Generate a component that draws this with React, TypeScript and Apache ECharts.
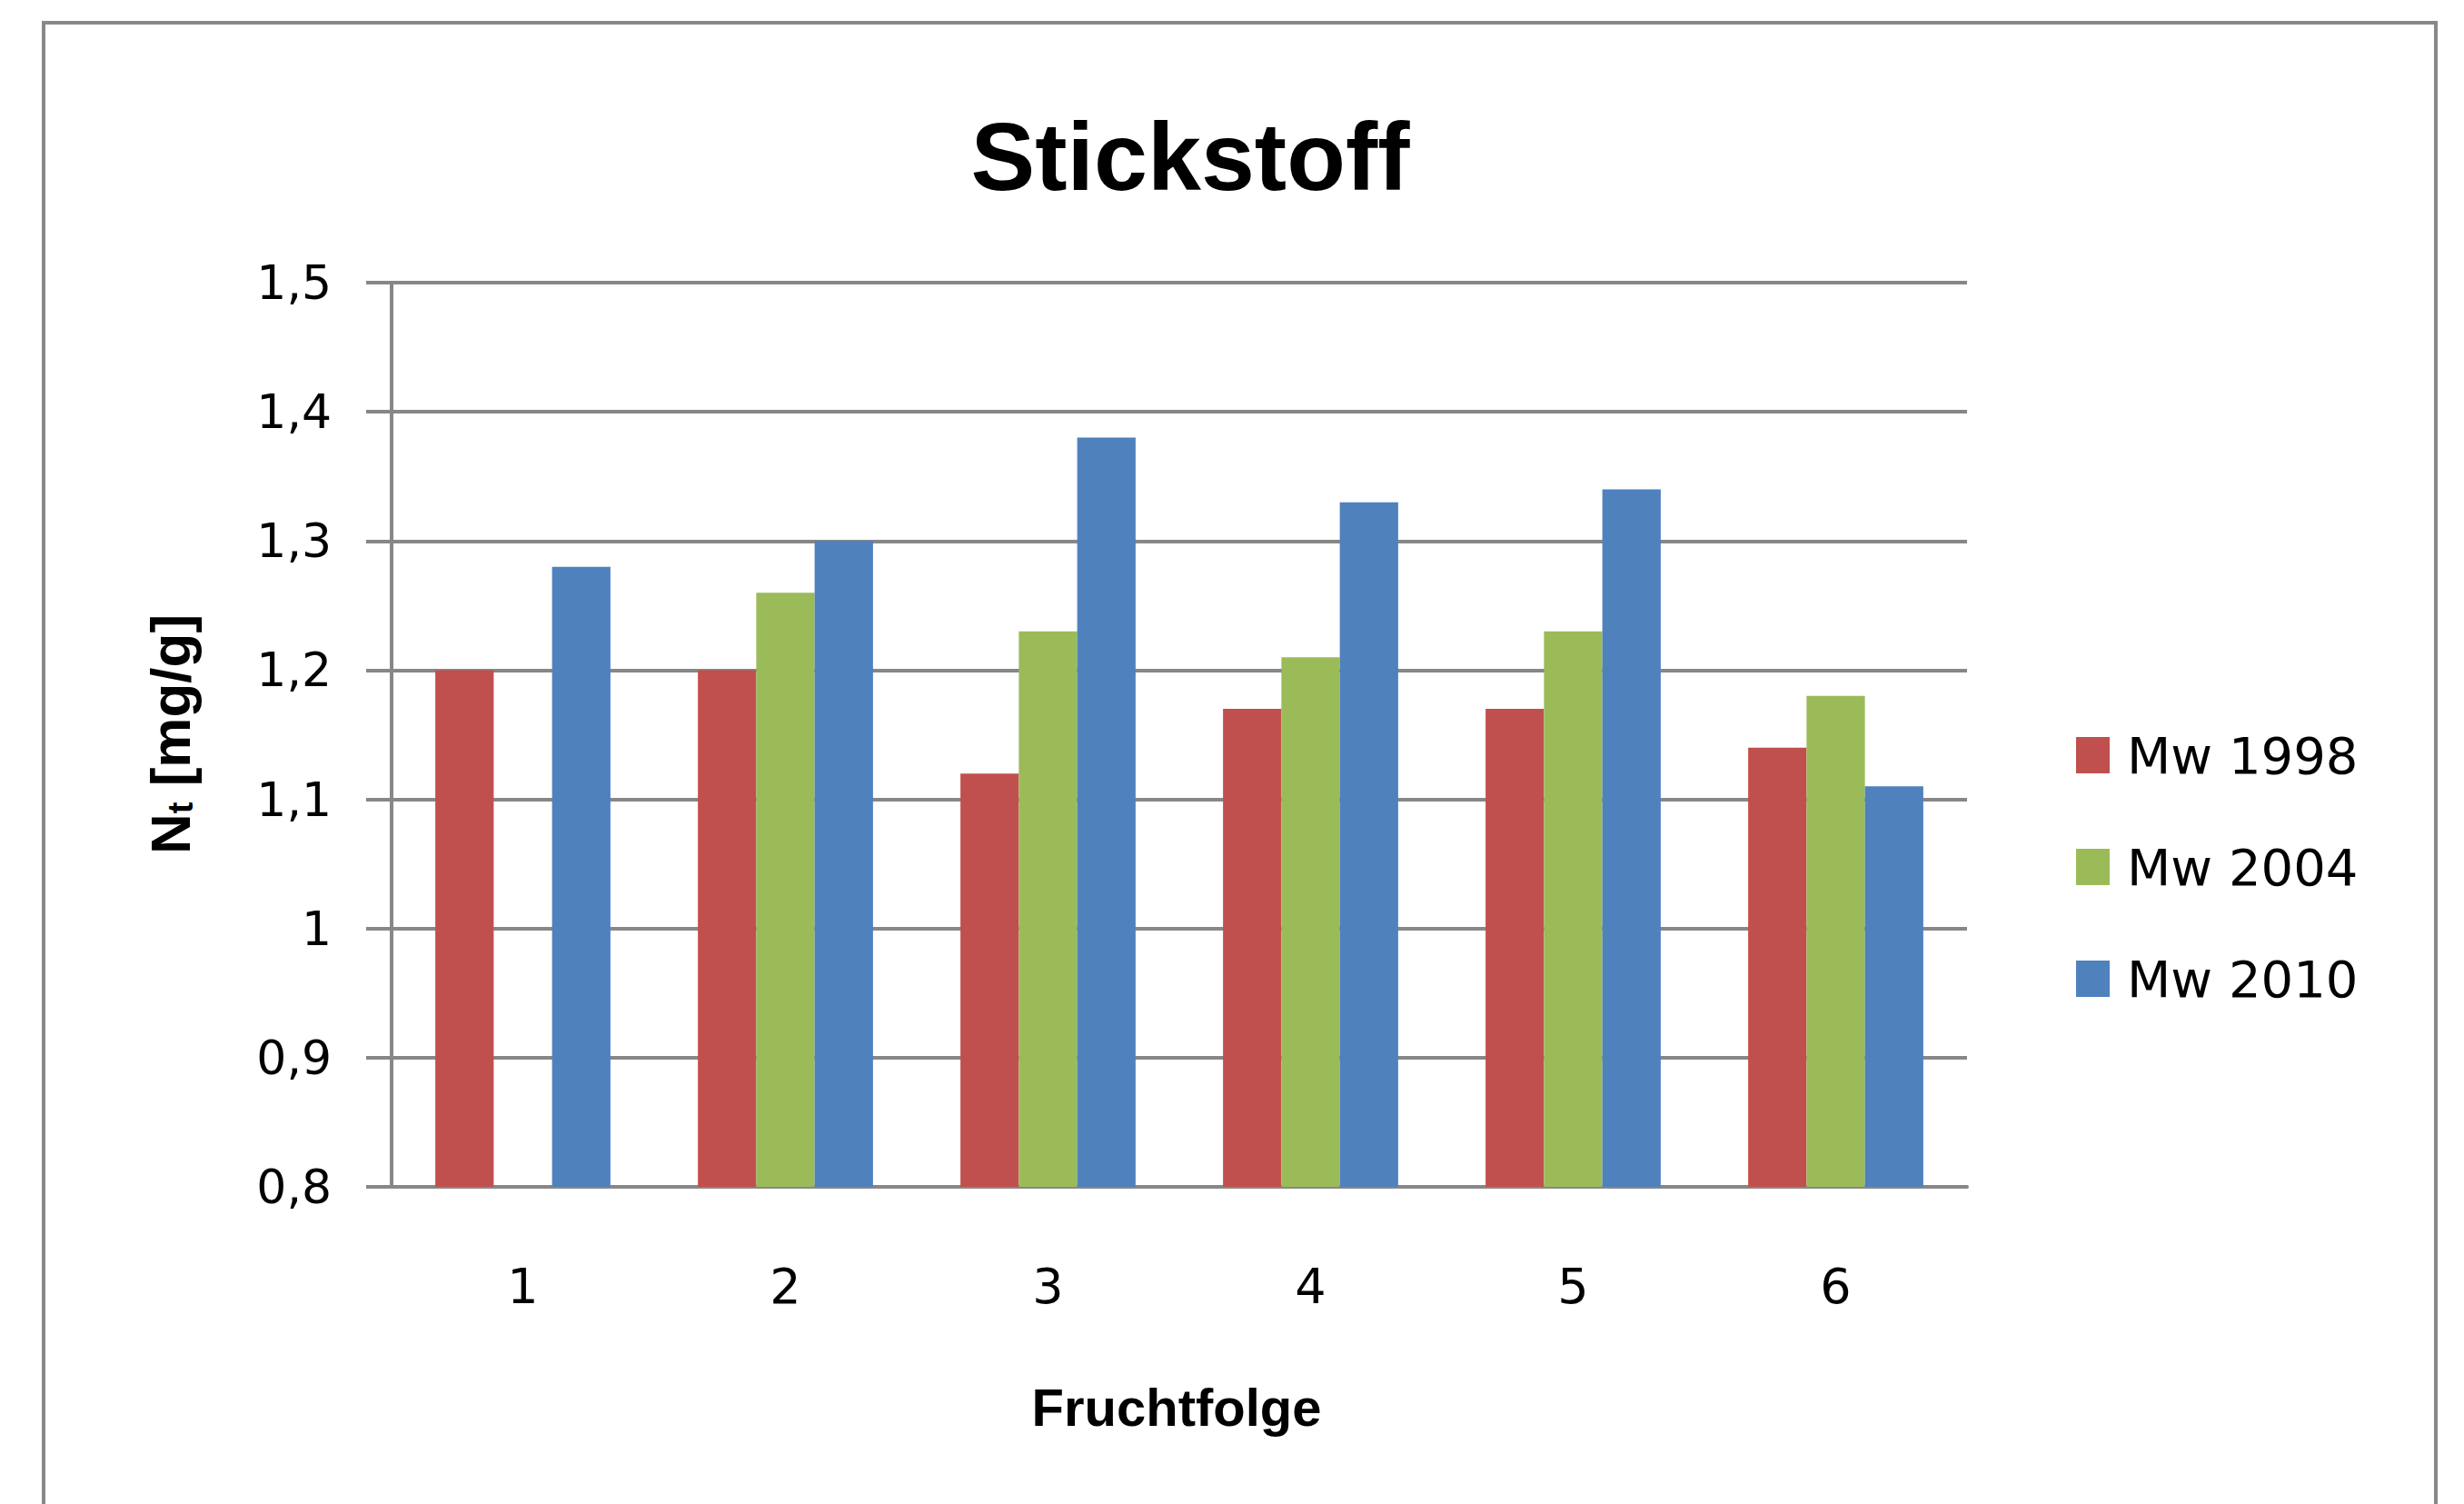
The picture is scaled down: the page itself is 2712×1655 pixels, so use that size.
import React, { useEffect, useRef } from "react";
import * as echarts from "echarts";

const categories = ["1", "2", "3", "4", "5", "6"];
const seriesNames = ["Mw 1998", "Mw 2004", "Mw 2010"];
const mw1998 = [1.2, 1.2, 1.12, 1.17, 1.17, 1.14];
const mw2004 = [null, 1.26, 1.23, 1.21, 1.23, 1.18];
const mw2010 = [1.28, 1.3, 1.38, 1.33, 1.34, 1.11];
const yTickLabels = ["0,8", "0,9", "1", "1,1", "1,2", "1,3", "1,4", "1,5"];
const colors = ["#C0504D", "#9BBB59", "#4F81BD"];

const GRID = "#878787";

export default function App() {
  const ref = useRef<HTMLDivElement>(null);
  useEffect(() => {
    if (!ref.current) return;
    const chart = echarts.init(ref.current, null, { renderer: "svg" });
    const values = [mw1998, mw2004, mw2010];
    chart.setOption({
      animation: false,
      backgroundColor: "#ffffff",
      grid: { left: 431, right: 547, top: 311, bottom: 349, containLabel: false },
      legend: {
        orient: "vertical",
        left: 2280,
        top: 798,
        itemWidth: 37,
        itemHeight: 40,
        itemGap: 67,
        icon: "rect",
        data: seriesNames,
        textStyle: {
          fontFamily: "DejaVu Sans",
          fontSize: 56,
          color: "#000",
          lineHeight: 40,
          padding: [0, 0, 0, 14],
        },
      },
      xAxis: {
        type: "category",
        data: categories,
        axisLine: { show: true, lineStyle: { color: GRID, width: 4 } },
        axisTick: { show: false },
        axisLabel: {
          fontFamily: "DejaVu Sans",
          fontSize: 54,
          color: "#000",
          margin: 82,
          lineHeight: 54,
        },
      },
      yAxis: {
        type: "value",
        min: 0.8,
        max: 1.5,
        interval: 0.1,
        axisLine: { show: true, lineStyle: { color: GRID, width: 4 } },
        axisTick: { show: true, length: 28, lineStyle: { color: GRID, width: 4 } },
        splitLine: { show: true, lineStyle: { color: GRID, width: 4 } },
        axisLabel: {
          fontFamily: "DejaVu Sans",
          fontSize: 52,
          color: "#000",
          margin: 66,
          formatter: (_v: number, i: number) => yTickLabels[i],
        },
      },
      series: values.map((d, i) => ({
        name: seriesNames[i],
        type: "bar",
        data: d,
        barGap: "0%",
        barCategoryGap: "33.3%",
        itemStyle: { color: colors[i] },
      })),
      graphic: [
        {
          type: "rect",
          shape: { x: 48, y: 25, width: 2633, height: 1700 },
          style: { fill: "none", stroke: "#888888", lineWidth: 4 },
          z: 100,
        },
        {
          type: "text",
          x: 1310,
          y: 172,
          style: {
            text: "Stickstoff",
            fontFamily: "Liberation Sans",
            fontWeight: "bold",
            fontSize: 106,
            fill: "#000",
            align: "center",
            verticalAlign: "middle",
          },
        },
        {
          type: "text",
          x: 1295,
          y: 1548,
          style: {
            text: "Fruchtfolge",
            fontFamily: "Liberation Sans",
            fontWeight: "bold",
            fontSize: 58,
            fill: "#000",
            align: "center",
            verticalAlign: "middle",
          },
        },
        {
          type: "text",
          x: 187,
          y: 808,
          rotation: Math.PI / 2,
          style: {
            text: "{a|N}{b|t}{a| [mg/g]}",
            align: "center",
            verticalAlign: "middle",
            rich: {
              a: {
                fontFamily: "Liberation Sans",
                fontWeight: "bold",
                fontSize: 62,
                fill: "#000",
                verticalAlign: "bottom",
              },
              b: {
                fontFamily: "Liberation Sans",
                fontWeight: "bold",
                fontSize: 38,
                fill: "#000",
                verticalAlign: "bottom",
              },
            },
          },
        },
      ],
    });
    return () => chart.dispose();
  }, []);
  return (
    <div
      ref={ref}
      style={{ position: "fixed", left: 0, top: 0, width: 2712, height: 1655 }}
    />
  );
}
